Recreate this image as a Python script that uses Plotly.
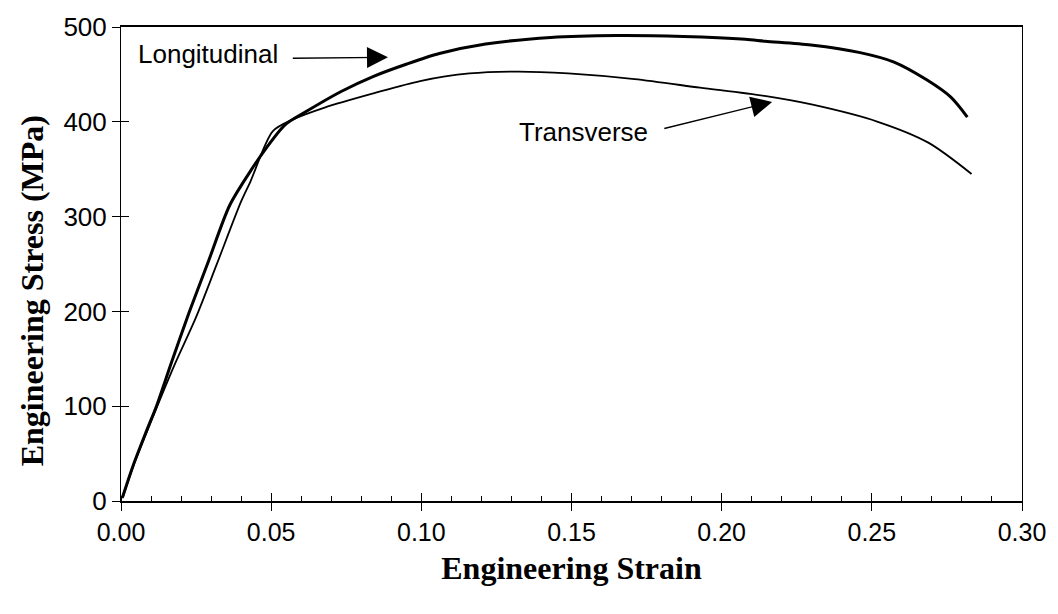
import plotly.graph_objects as go

# Engineering stress-strain curves, longitudinal vs transverse specimens
long_strain = [0.0005, 0.0040, 0.0085, 0.0118, 0.0170, 0.0227, 0.0289, 0.0362,
               0.0431, 0.0483, 0.0547, 0.0612, 0.0733, 0.0841, 0.0952, 0.1060,
               0.1214, 0.1431, 0.1650, 0.1872, 0.2079, 0.2145, 0.2297, 0.2461,
               0.2574, 0.2684, 0.2763, 0.2818]
long_stress = [4, 37, 74, 100, 148, 199, 251, 312,
               348, 372, 397, 410, 432, 448, 461, 472,
               482, 489, 491, 490, 487, 485, 481, 473,
               463, 444, 426, 405]

trans_strain = [0.0005, 0.0040, 0.0085, 0.0118, 0.0180, 0.0250, 0.0318, 0.0400,
                0.0431, 0.0505, 0.0569, 0.0678, 0.0841, 0.0996, 0.1160, 0.1324,
                0.1489, 0.1710, 0.1928, 0.2148, 0.2303, 0.2520, 0.2688, 0.2832]
trans_stress = [3, 36, 72, 98, 145, 194, 249, 316,
                337, 390, 402, 415, 430, 443, 451, 453,
                451, 445, 436, 427, 418, 400, 378, 345]

x_ticks = [0.00, 0.05, 0.10, 0.15, 0.20, 0.25, 0.30]
x_tick_text = ["0.00", "0.05", "0.10", "0.15", "0.20", "0.25", "0.30"]
y_ticks = [0, 100, 200, 300, 400, 500]

SANS = "Liberation Sans, Arial, sans-serif"
SERIF = "Liberation Serif, Times New Roman, serif"

fig = go.Figure()
fig.add_trace(go.Scatter(x=long_strain, y=long_stress, mode="lines",
                         line=dict(color="black", width=3, shape="spline", smoothing=0.8),
                         name="Longitudinal", showlegend=False))
# The transverse curve sits on the twin axes (identical ranges), which carry
# the inner half of the crossing major ticks.
fig.add_trace(go.Scatter(x=trans_strain, y=trans_stress, mode="lines", xaxis="x2", yaxis="y2",
                         line=dict(color="black", width=1.8, shape="spline", smoothing=0.8),
                         name="Transverse", showlegend=False))

# Labels with pointer arrows
fig.add_annotation(x=0.0049, y=471, text="Longitudinal", showarrow=False,
                   xanchor="left", yanchor="middle", font=dict(family=SANS, size=26, color="black"))
fig.add_annotation(x=0.0889, y=468, ax=0.0567, ay=467, axref="x", ayref="y",
                   xref="x", yref="y", text="", showarrow=True,
                   arrowhead=2, arrowsize=3, arrowwidth=1.4, arrowcolor="black", standoff=0)
fig.add_annotation(x=0.1317, y=389, text="Transverse", showarrow=False,
                   xanchor="left", yanchor="middle", font=dict(family=SANS, size=26, color="black"))
fig.add_annotation(x=0.2168, y=421, ax=0.1804, ay=392.5, axref="x", ayref="y",
                   xref="x", yref="y", text="", showarrow=True,
                   arrowhead=2, arrowsize=3, arrowwidth=1.4, arrowcolor="black", standoff=0)

# Vertical axis title, set slightly below the plot centre
fig.add_annotation(x=-0.099, y=0.444, xref="paper", yref="paper",
                   text="<b>Engineering Stress (MPa)</b>", textangle=-90, showarrow=False,
                   xanchor="center", yanchor="middle",
                   font=dict(family=SERIF, size=32, color="black"))

fig.update_layout(
    width=1058, height=614,
    margin=dict(l=121, r=25, t=26, b=113),
    paper_bgcolor="white", plot_bgcolor="white",
    showlegend=False,
    xaxis=dict(
        range=[0, 0.30], tickvals=x_ticks, ticktext=x_tick_text,
        ticks="outside", ticklen=8, tickwidth=1, tickcolor="black",
        minor=dict(ticks="inside", dtick=0.01, ticklen=5, tickwidth=1, tickcolor="black", showgrid=False),
        showline=True, linecolor="black", linewidth=1.6, mirror=True,
        showgrid=False, zeroline=False, ticklabeloverflow="allow",
        tickfont=dict(family=SANS, size=25, color="black"),
        title=dict(text="<b>Engineering Strain</b>", font=dict(family=SERIF, size=32, color="black"), standoff=12),
    ),
    yaxis=dict(
        range=[0, 500], tickvals=y_ticks,
        ticks="outside", ticklen=8, tickwidth=1, tickcolor="black",
        showline=True, linecolor="black", linewidth=1, mirror=True,
        showgrid=False, zeroline=False,
        tickfont=dict(family=SANS, size=26, color="black"),
    ),
    xaxis2=dict(overlaying="x", anchor="y2", side="bottom", range=[0, 0.30], tickvals=x_ticks,
                ticks="inside", ticklen=8, tickwidth=1, tickcolor="black",
                showticklabels=False, showline=False, showgrid=False, zeroline=False),
    yaxis2=dict(overlaying="y", anchor="x2", side="left", range=[0, 500], tickvals=y_ticks,
                ticks="inside", ticklen=8, tickwidth=1, tickcolor="black",
                showticklabels=False, showline=False, showgrid=False, zeroline=False),
)

fig.write_html("out.html")
